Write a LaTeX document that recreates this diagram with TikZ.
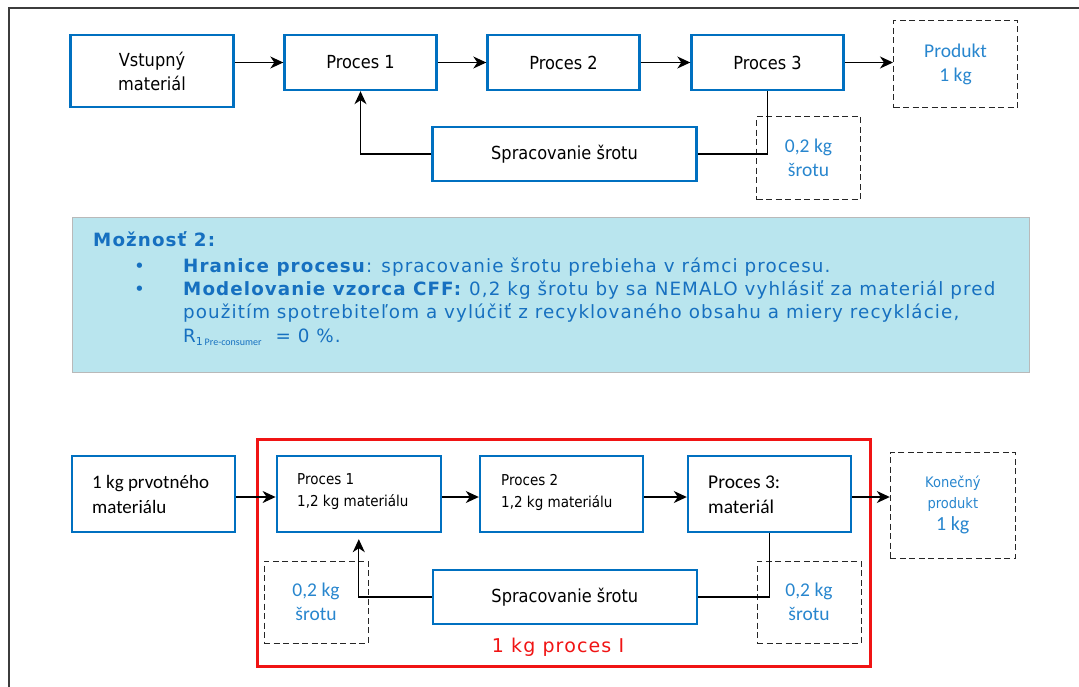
\documentclass[tikz,border=0pt]{standalone}
\usepackage{fontspec}
\setmainfont{DejaVu Sans}
\newfontfamily\condfont[FakeStretch=0.9]{DejaVu Sans}
\newfontfamily\calfont{Carlito}
\newfontfamily\notefont[LetterSpace=6]{DejaVu Sans}
\usetikzlibrary{arrows.meta}
\definecolor{boxblue}{RGB}{0,112,192}
\definecolor{lblue}{RGB}{40,134,206}
\definecolor{noteblue}{RGB}{22,112,192}
\definecolor{notefill}{RGB}{185,229,238}
\definecolor{frameline}{RGB}{60,60,60}
\definecolor{bound}{RGB}{240,20,20}
\begin{document}
\begin{tikzpicture}[x=1pt,y=-1pt,
  bbox/.style={draw=boxblue, line width=2.4pt, inner sep=0pt, align=center, text=black},
  dbox/.style={draw=black!85, line width=1pt, dash pattern=on 6pt off 3.5pt,
    inner sep=0pt, align=center, text=lblue},
  arr/.style={draw=black, line width=1.2pt, -{Stealth[length=13pt,width=12pt,inset=4pt]}},
  link/.style={draw=black, line width=1.1pt},
  tfont/.style={font=\condfont\fontsize{18}{24}\selectfont},
  smallfont/.style={font=\condfont\fontsize{15}{22}\selectfont},
  calib/.style={font=\calfont\fontsize{19.5}{24}\selectfont},
  notetxt/.style={inner sep=0pt, text=noteblue, anchor=base west,
    font=\notefont\fontsize{18.3}{22}\selectfont},
  lefttxt/.style={inner sep=0pt, anchor=west, align=left, text=black},
]
\useasboundingbox (0,0) rectangle (1079,686);

% page frame
\draw[frameline, line width=1.6pt] (9,700) -- (9,8) -- (1090,8);

% ---------- upper chain ----------
\node[bbox, tfont, minimum width=163pt, minimum height=72pt] (vst) at (152,71) {Vstupný\\materiál};
\node[bbox, tfont, minimum width=152pt, minimum height=55pt] (p1t) at (360.5,62.5) {Proces 1};
\node[bbox, tfont, minimum width=152pt, minimum height=55pt] (p2t) at (563.5,62.5) {Proces 2};
\node[bbox, tfont, minimum width=152pt, minimum height=55pt] (p3t) at (767.5,62.5) {Proces 3};
\node[dbox, calib, minimum width=124pt, minimum height=87pt] (prod) at (955.5,64) {Produkt\\1 kg};
\node[bbox, tfont, minimum width=264pt, minimum height=54pt] (sprt) at (564.5,154) {Spracovanie šrotu};
\node[dbox, calib, minimum width=104pt, minimum height=83pt] (scrt) at (808.5,158) {0,2 kg\\šrotu};

\draw[arr] (vst.east |- p1t.west) -- (p1t.west);
\draw[arr] (p1t.east) -- (p2t.west);
\draw[arr] (p2t.east) -- (p3t.west);
\draw[arr] (p3t.east) -- (p3t.east -| prod.west);
\draw[arr] (sprt.west) -| (p1t.south);
\draw[link] (p3t.south) |- (sprt.east);

% ---------- note ----------
\node[draw=gray!55, line width=1.2pt, fill=notefill, minimum width=957pt,
  minimum height=155pt, inner sep=0pt] (note) at (551,295) {};
\node[notetxt] (nhead) at (93,246) {\bfseries Možnosť 2:};
\node[notetxt] (nb1) at (134,272) {•};
\node[notetxt] (nl1) at (183,272) {\textbf{Hranice procesu}: spracovanie šrotu prebieha v rámci procesu.};
\node[notetxt] (nb2) at (134,295) {•};
\node[notetxt] (nl2) at (183,295) {\textbf{Modelovanie vzorca CFF:} 0,2 kg šrotu by sa NEMALO vyhlásiť za materiál pred};
\node[notetxt] (nl3) at (183,318) {použitím spotrebiteľom a vylúčiť z recyklovaného obsahu a miery recyklácie,};
\node[notetxt] (nl4) at (183,342) {R\raisebox{-3pt}{\fontsize{11}{11}\selectfont 1\,\calfont\fontsize{10}{10}\selectfont Pre-consumer}\hspace{14pt}= 0 \%.};

% ---------- lower chain ----------
\node[draw=bound, line width=3pt, minimum width=613pt, minimum height=227pt, inner sep=0pt] (bnd) at (563.75,553) {};
\node[text=bound, inner sep=0pt, font=\notefont\fontsize{19}{22}\selectfont] (bndlbl) at (558,647) {1 kg proces I};

\node[bbox, minimum width=163pt, minimum height=76pt] (b0) at (153.3,494) {};
\node[lefttxt, font=\calfont\fontsize{19}{25}\selectfont] (b0t) at (92,494.5) {1 kg prvotného\\materiálu};
\node[bbox, minimum width=164pt, minimum height=76pt] (b1) at (358.8,494) {};
\node[lefttxt, smallfont] (b1t) at (297,492) {Proces 1\\1,2 kg materiálu};
\node[bbox, minimum width=163pt, minimum height=76pt] (b2) at (561.5,494) {};
\node[lefttxt, smallfont] (b2t) at (501,492) {Proces 2\\1,2 kg materiálu};
\node[bbox, minimum width=163pt, minimum height=76pt] (b3) at (769.5,494) {};
\node[lefttxt, font=\calfont\fontsize{19.5}{25}\selectfont] (b3t) at (708,494.5) {Proces 3:\\materiál};
\node[dbox, minimum width=125pt, minimum height=106pt, font=\condfont\fontsize{14.5}{21}\selectfont] (kon) at (952.8,505)
  {Konečný\\produkt\\[1pt]{\calfont\fontsize{20}{24}\selectfont 1 kg}};
\node[bbox, tfont, minimum width=264pt, minimum height=54pt] (sprb) at (564.8,597) {Spracovanie šrotu};
\node[dbox, calib, minimum width=104pt, minimum height=82pt] (scl) at (316,602) {0,2 kg\\šrotu};
\node[dbox, calib, minimum width=104pt, minimum height=82pt] (scr) at (809,602) {0,2 kg\\šrotu};

\draw[arr] ([yshift=-3pt]b0.east) -- ([yshift=-3pt]b1.west);
\draw[arr] ([yshift=-3pt]b1.east) -- ([yshift=-3pt]b2.west);
\draw[arr] ([yshift=-3pt]b2.east) -- ([yshift=-3pt]b3.west);
\draw[arr] ([yshift=-3pt]b3.east) -- ([yshift=8pt]kon.west);
\draw[arr, shorten >=6pt] (sprb.west) -| (b1.south);
\draw[link] (b3.south) |- (sprb.east);
\end{tikzpicture}
\end{document}
